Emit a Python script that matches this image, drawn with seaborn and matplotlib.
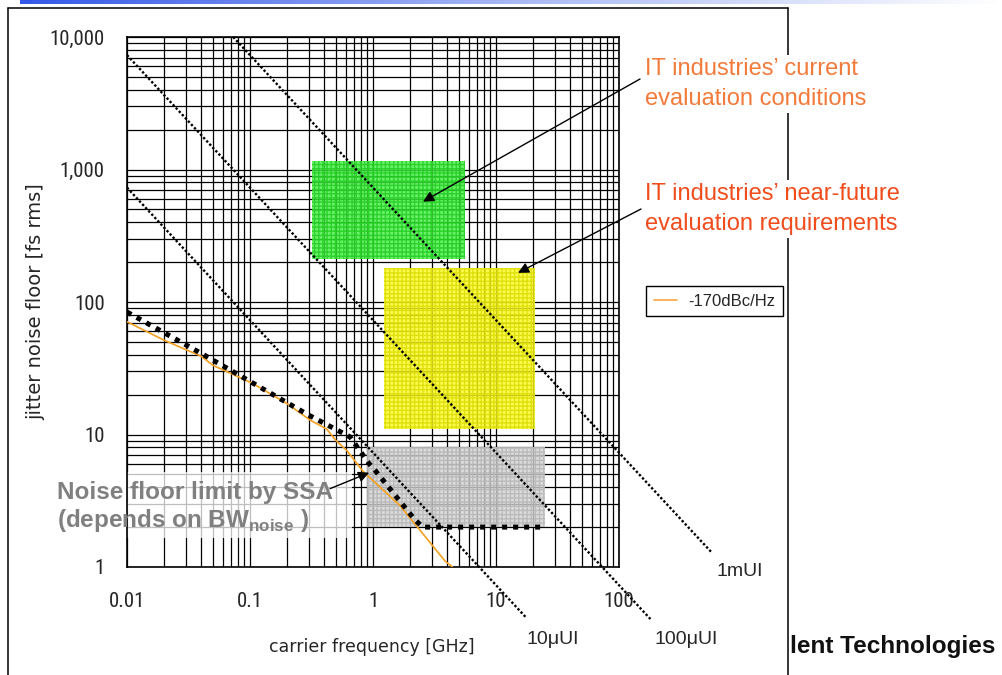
import numpy as np
import matplotlib.pyplot as plt
import seaborn as sns
from matplotlib import font_manager
from matplotlib.colors import LinearSegmentedColormap
from matplotlib.lines import Line2D
from matplotlib.patches import Rectangle

# ---- data ----
x_ticks = [0.01, 0.1, 1, 10, 100]
x_tick_labels = ["0.01", "0.1", "1", "10", "100"]
y_ticks = [1, 10, 100, 1000, 10000]
y_tick_labels = ["1", "10", "100", "1,000", "10,000"]

# constant-UI lines: start / end points (GHz, fs rms)
ui_names = ["1mUI", "100\u03bcUI", "10\u03bcUI"]
ui_freq = [[0.073, 570], [0.01, 180], [0.01, 17.5]]
ui_jitter = [[10000, 1.28], [7300, 0.405], [730, 0.417]]

# SSA noise floor limit (thick dotted)
ssa_freq = [0.01, 0.04, 0.3, 0.65, 0.92, 1.05, 2.2, 2.55, 25]
ssa_jitter = [84, 41, 14, 9.6, 6.1, 5.3, 2.26, 2.0, 2.0]

# -170dBc/Hz curve
dbc_freq = [0.01, 0.02, 0.04, 0.05, 0.106, 0.2, 0.31, 0.42, 0.5, 0.61, 0.83, 1.66, 3.85, 4.43]
dbc_jitter = [71, 51.5, 39, 33.3, 24.2, 17.1, 12.8, 11.0, 9.0, 7.6, 5.27, 2.9, 1.11, 1.0]

# evaluation regions: (f_lo, f_hi, j_lo, j_hi)
green_box = (0.32, 5.6, 210, 1150)
yellow_box = (1.22, 20.7, 11, 180)
gray_box = (0.9, 25, 2.0, 8.0)
ssa_text_box = (0.01, 0.67, 1.66, 5.25)

sns.set_theme(style="white")
fonts = font_manager.fontManager.ttflist
names = {f.name for f in fonts}
arial = "Liberation Sans" if "Liberation Sans" in names else "DejaVu Sans"
narrow = dict(family=arial, stretch="normal", size=13)
for cand in ["Roboto Condensed", "Liberation Sans Narrow", "DejaVu Sans Condensed"]:
    if cand in names:
        narrow = dict(family=cand, stretch="normal", size=15)
        break
else:
    if any(f.name == "DejaVu Sans" and f.stretch == "condensed" for f in fonts):
        narrow = dict(family="DejaVu Sans", stretch="condensed", size=15)

plt.rcParams["font.family"] = [arial, "DejaVu Sans"]
plt.rcParams["mathtext.fontset"] = "custom"
plt.rcParams["mathtext.rm"] = arial
plt.rcParams["mathtext.bf"] = arial + ":bold"

fig = plt.figure(figsize=(10.02, 6.75), dpi=100)
ax = fig.add_axes([127 / 1002, 108 / 675, 492 / 1002, 530 / 675])
ax.set_xscale("log")
ax.set_yscale("log")
ax.set_xlim(0.01, 100)
ax.set_ylim(1, 10000)

ax.minorticks_on()
ax.grid(True, which="both", color="black", lw=0.9)
ax.set_axisbelow(True)
for s in ax.spines.values():
    s.set_color("black")
    s.set_linewidth(1.2)

# shaded regions
for (f0, f1, j0, j1), col, hc in [(green_box, "#3ef03e", "#20c820"),
                                  (yellow_box, "#fafa22", "#dada00"),
                                  (gray_box, "#d2d2d2", "#b4b4b4")]:
    ax.add_patch(Rectangle((f0, j0), f1 - f0, j1 - j0, facecolor=col, edgecolor=hc,
                           hatch="++++", lw=0, alpha=0.8, zorder=1))
f0, f1, j0, j1 = ssa_text_box
ax.add_patch(Rectangle((f0, j0), f1 - f0, j1 - j0, facecolor="white", lw=0,
                       alpha=0.75, zorder=1))

# constant UI lines
for fr, jt in zip(ui_freq, ui_jitter):
    sns.lineplot(x=fr, y=jt, ax=ax, color="black", lw=1.7, sort=False, estimator=None)
    ln = ax.lines[-1]
    ln.set_linestyle((0, (1, 0.9)))
    ln.set_clip_on(False)
    ln.set_zorder(3)

sns.lineplot(x=dbc_freq, y=dbc_jitter, ax=ax, color="#f4a020", lw=1.2, sort=False,
             estimator=None)
ax.lines[-1].set_zorder(3)
sns.lineplot(x=ssa_freq, y=ssa_jitter, ax=ax, color="black", lw=3.6, sort=False,
             estimator=None)
ax.lines[-1].set_linestyle((0, (1, 1.2)))
ax.lines[-1].set_dash_capstyle("butt")
ax.lines[-1].set_zorder(4)

ax.set_xticks(x_ticks, x_tick_labels, fontfamily=narrow["family"],
              fontstretch=narrow["stretch"], fontsize=narrow["size"])
ax.set_yticks(y_ticks, y_tick_labels, fontfamily=narrow["family"],
              fontstretch=narrow["stretch"], fontsize=narrow["size"])
ax.tick_params(which="both", length=0)
ax.tick_params(axis="x", pad=18)
ax.tick_params(axis="y", pad=16)

ax.set_xlabel("carrier frequency [GHz]", fontsize=12.5, fontfamily="DejaVu Sans", va="center")
ax.xaxis.set_label_coords(0.498, -0.151)
ax.set_ylabel("jitter noise floor [fs rms]", fontsize=14, fontfamily="DejaVu Sans", va="center")
ax.yaxis.set_label_coords(-0.185, 0.5)

# legend
leg = ax.legend([Line2D([], [], color="#f5a540", lw=1.2)], ["-170dBc/Hz"],
                loc="upper left", bbox_to_anchor=(646 / 1002, 1 - 286 / 675),
                bbox_transform=fig.transFigure, fancybox=False, framealpha=1,
                edgecolor="black", prop={"family": arial, "size": 12},
                handlelength=1.4, handletextpad=0.7, borderpad=0.45, borderaxespad=0)
leg.get_frame().set_linewidth(1)

# arrows
arrow = dict(arrowstyle="-|>", color="black", lw=1, mutation_scale=16, shrinkA=0, shrinkB=0)
ax.annotate("", xy=(2.55, 572), xytext=(640 / 1002, 1 - 79 / 675),
            textcoords="figure fraction", arrowprops=arrow, zorder=6, annotation_clip=False)
ax.annotate("", xy=(15.1, 166), xytext=(641 / 1002, 1 - 209 / 675),
            textcoords="figure fraction", arrowprops=arrow, zorder=6, annotation_clip=False)
ax.annotate("", xy=(0.93, 5.15), xytext=(0.447, 3.9), arrowprops=arrow, zorder=6)

# figure frame and header bar
for xs, ys in [([8, 8], [0, 667]), ([8, 788], [667, 667]), ([788, 788], [0, 667])]:
    fig.add_artist(Line2D(np.array(xs) / 1002, np.array(ys) / 675, color="black", lw=1.1,
                          zorder=2))
bar = fig.add_axes([20 / 1002, 1 - 4 / 675, 982 / 1002, 4 / 675])
bar.imshow([np.linspace(0, 1, 256)], aspect="auto",
           cmap=LinearSegmentedColormap.from_list("hdr", ["#3558e8", "#a8b8f4", "#ffffff"]))
bar.set_axis_off()

txt_box = dict(facecolor="white", edgecolor="none", pad=2)
fig.text(645 / 1002, 1 - 84 / 675, "IT industries\u2019 current\nevaluation conditions",
         color="#f27a3a", fontsize=17, va="center", ha="left", linespacing=1.5,
         bbox=txt_box, zorder=5)
fig.text(645 / 1002, 1 - 209 / 675, "IT industries\u2019 near-future\nevaluation requirements",
         color="#f04c1c", fontsize=17, va="center", ha="left", linespacing=1.5,
         bbox=txt_box, zorder=5)
fig.text(57 / 1002, 1 - 493 / 675, "Noise floor limit by SSA", color="#808080",
         fontsize=17.5, fontweight="bold", va="center", zorder=5)
fig.text(57 / 1002, 1 - 521 / 675, r"(depends on BW$_{\mathbf{noise}}$ )", color="#808080",
         fontsize=17.5, fontweight="bold", va="center", zorder=5)

fig.text(716 / 1002, 1 - 572 / 675, ui_names[0], fontsize=14, va="center")
fig.text(655 / 1002, 1 - 640 / 675, ui_names[1], fontsize=14, va="center")
fig.text(527 / 1002, 1 - 640 / 675, ui_names[2], fontsize=14, va="center")
fig.text(790 / 1002, 1 - 647 / 675, "lent Technologies", fontsize=17.5,
         fontweight="bold", va="center", color="#111111")

fig.savefig("out.png", dpi=100)
